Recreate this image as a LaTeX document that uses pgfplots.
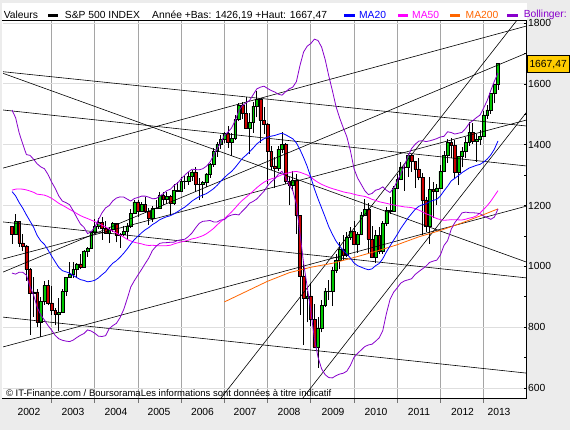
\documentclass[border=0pt]{standalone}
\usepackage{pgfplots}
\pgfplotsset{compat=1.18}
\usepackage{pgfplotstable}
\usepackage{fontspec}
\setmainfont{Liberation Sans}
\definecolor{bggray}{RGB}{236,236,236}
\definecolor{gridv}{RGB}{165,165,165}
\definecolor{gridh}{RGB}{222,222,222}
\definecolor{cgreen}{RGB}{0,200,0}
\definecolor{cred}{RGB}{204,0,0}
\definecolor{maBlue}{RGB}{0,0,255}
\definecolor{maMag}{RGB}{255,0,255}
\definecolor{maOr}{RGB}{255,102,0}
\definecolor{bolPur}{RGB}{136,0,204}
\definecolor{boxGold}{RGB}{255,204,0}
\newcommand\hdr{\fontsize{10.3pt}{12pt}\selectfont}

% monthly OHLC, m = months since Jan 2002
\pgfplotstableread{
m O H L C
1 1130.2 1130.2 1074.4 1106.7
2 1106.7 1173.0 1106.7 1147.4
3 1147.4 1147.8 1063.5 1076.9
4 1076.9 1106.6 1049.0 1067.1
5 1067.1 1070.6 952.9 989.8
6 989.8 994.5 775.7 911.6
7 911.6 965.0 833.4 916.1
8 916.1 924.0 800.2 815.3
9 815.3 900.1 768.6 885.8
10 885.8 951.6 872.7 936.3
11 936.3 954.3 871.8 879.8
12 879.8 935.1 840.3 855.7
13 855.7 864.6 806.3 841.2
14 841.2 895.9 788.9 848.2
15 848.2 924.2 847.9 916.9
16 916.9 965.4 902.8 963.6
17 963.6 1015.3 963.4 974.5
18 974.5 1015.4 962.1 990.3
19 990.3 1011.0 960.8 1008.0
20 1008.0 1040.3 990.4 996.0
21 996.0 1053.8 996.0 1050.7
22 1050.7 1063.7 1031.2 1058.2
23 1058.2 1112.6 1058.2 1111.9
24 1111.9 1155.4 1105.1 1131.1
25 1131.1 1159.0 1124.4 1144.9
26 1144.9 1163.2 1087.2 1126.2
27 1126.2 1150.6 1105.8 1107.3
28 1107.3 1127.7 1076.3 1120.7
29 1120.7 1146.3 1113.3 1140.8
30 1140.8 1140.8 1078.8 1101.7
31 1101.7 1109.7 1060.7 1104.2
32 1104.2 1131.5 1101.3 1114.6
33 1114.6 1142.1 1090.2 1130.2
34 1130.2 1188.5 1127.6 1173.8
35 1173.8 1217.3 1173.8 1211.9
36 1211.9 1217.8 1163.8 1181.3
37 1181.3 1212.4 1180.0 1203.6
38 1203.6 1229.1 1176.9 1180.6
39 1180.6 1191.9 1136.2 1156.9
40 1156.9 1199.6 1146.2 1191.5
41 1191.5 1219.6 1188.3 1191.3
42 1191.3 1245.2 1191.3 1234.2
43 1234.2 1245.9 1201.1 1220.3
44 1220.3 1243.1 1205.4 1228.8
45 1228.8 1233.3 1168.2 1207.0
46 1207.0 1270.6 1201.1 1249.5
47 1249.5 1275.8 1246.6 1248.3
48 1248.3 1294.9 1245.7 1280.1
49 1280.1 1297.6 1253.6 1280.7
50 1280.7 1310.9 1268.4 1294.8
51 1294.8 1318.2 1280.7 1310.6
52 1310.6 1326.7 1245.3 1270.1
53 1270.1 1290.7 1219.3 1270.2
54 1270.2 1280.4 1224.5 1276.7
55 1276.7 1306.7 1261.3 1303.8
56 1303.8 1340.3 1290.9 1335.9
57 1335.9 1389.5 1327.1 1377.9
58 1377.9 1407.9 1361.0 1400.6
59 1400.6 1431.8 1385.9 1418.3
60 1418.3 1441.6 1404.0 1438.2
61 1438.2 1461.6 1389.4 1406.8
62 1406.8 1438.9 1364.0 1420.9
63 1420.9 1498.0 1416.4 1482.4
64 1482.4 1535.6 1476.7 1530.6
65 1530.6 1540.6 1484.2 1503.4
66 1503.4 1555.9 1454.3 1455.3
67 1455.3 1503.9 1370.6 1474.0
68 1474.0 1538.7 1439.3 1526.8
69 1526.8 1576.1 1489.6 1549.4
70 1549.4 1549.4 1406.1 1481.1
71 1481.1 1523.6 1435.7 1468.4
72 1468.4 1471.8 1270.1 1378.6
73 1378.6 1396.0 1316.8 1330.6
74 1330.6 1359.7 1257.0 1322.7
75 1322.7 1397.0 1312.0 1385.6
76 1385.6 1440.2 1373.1 1400.4
77 1400.4 1404.1 1272.0 1280.0
78 1280.0 1292.2 1200.4 1267.4
79 1267.4 1313.2 1247.5 1282.8
80 1282.8 1303.0 1106.4 1166.4
81 1166.4 1167.0 839.8 968.8
82 968.8 1007.5 741.0 896.2
83 896.2 918.9 815.7 903.3
84 903.3 943.9 804.5 825.9
85 825.9 875.0 734.5 735.1
86 735.1 833.0 666.8 797.9
87 797.9 888.7 783.3 872.8
88 872.8 930.2 866.1 919.1
89 919.1 956.2 888.9 919.3
90 919.3 996.7 869.3 987.5
91 987.5 1039.5 978.5 1020.6
92 1020.6 1080.2 992.0 1057.1
93 1057.1 1101.4 1020.2 1036.2
94 1036.2 1113.7 1029.4 1095.6
95 1095.6 1130.4 1085.9 1115.1
96 1115.1 1150.5 1071.6 1073.9
97 1073.9 1112.4 1044.5 1104.5
98 1104.5 1180.2 1101.4 1169.4
99 1169.4 1219.8 1167.6 1186.7
100 1186.7 1206.8 1040.8 1089.4
101 1089.4 1131.2 1028.3 1030.7
102 1030.7 1121.0 1010.9 1101.6
103 1101.6 1129.2 1039.7 1049.3
104 1049.3 1148.7 1041.3 1141.2
105 1141.2 1196.1 1131.9 1183.3
106 1183.3 1227.1 1173.0 1180.6
107 1180.6 1262.6 1180.6 1257.6
108 1257.6 1302.7 1257.6 1286.1
109 1286.1 1344.1 1282.9 1327.2
110 1327.2 1332.3 1249.1 1325.8
111 1325.8 1370.6 1294.7 1363.6
112 1363.6 1370.6 1311.8 1345.2
113 1345.2 1345.2 1258.1 1320.6
114 1320.6 1356.5 1282.9 1292.3
115 1292.3 1307.4 1101.5 1218.9
116 1218.9 1229.3 1114.2 1131.4
117 1131.4 1292.7 1074.8 1253.3
118 1253.3 1277.6 1158.7 1247.0
119 1247.0 1269.4 1202.4 1257.6
120 1257.6 1333.5 1257.6 1312.4
121 1312.4 1378.0 1312.4 1365.7
122 1365.7 1419.2 1340.0 1408.5
123 1408.5 1422.4 1357.4 1397.9
124 1397.9 1415.3 1292.0 1310.3
125 1310.3 1363.5 1266.7 1362.2
126 1362.2 1391.7 1325.4 1379.3
127 1379.3 1426.7 1354.7 1406.6
128 1406.6 1474.5 1396.6 1440.7
129 1440.7 1471.0 1403.3 1412.2
130 1412.2 1434.3 1343.4 1416.2
131 1416.2 1448.0 1398.1 1426.2
132 1426.2 1509.9 1426.2 1498.1
133 1498.1 1530.9 1485.0 1514.7
134 1514.7 1570.3 1501.5 1569.2
135 1569.2 1597.6 1536.0 1597.6
136 1597.6 1667.5 1581.3 1667.5
}\candles

% MA20, MA50, Bollinger upper / lower
\pgfplotstableread{
m ma20 ma50 bu bl
1 1245.8 1250.5 1513.8 977.8
2 1231.6 1253.8 1488.8 974.4
3 1209.5 1254.4 1438.3 980.7
4 1191.0 1253.7 1401.8 980.2
5 1169.1 1251.2 1367.3 970.9
6 1148.9 1247.7 1364.9 932.9
7 1128.7 1243.3 1351.9 905.5
8 1101.2 1237.2 1336.8 865.6
9 1083.5 1235.8 1327.1 839.9
10 1072.3 1234.1 1321.1 823.5
11 1053.8 1229.8 1302.2 805.4
12 1033.8 1223.6 1277.2 790.4
13 1014.7 1215.8 1256.5 772.9
14 996.5 1207.2 1231.1 761.9
15 985.7 1200.8 1214.5 756.9
16 981.8 1194.3 1209.4 754.2
17 977.6 1187.1 1202.6 752.6
18 970.1 1180.9 1182.7 757.5
19 963.1 1173.6 1160.3 765.9
20 956.4 1166.9 1139.4 773.4
21 953.6 1161.6 1128.2 779.0
22 949.2 1157.1 1107.4 791.0
23 950.9 1152.0 1114.5 787.3
24 954.1 1146.9 1128.1 780.1
25 961.9 1140.4 1153.3 770.5
26 972.6 1135.0 1175.8 769.4
27 982.1 1129.9 1192.1 772.1
28 997.4 1122.3 1199.8 795.0
29 1010.2 1116.1 1215.2 805.2
30 1018.5 1109.7 1224.5 812.5
31 1029.7 1102.7 1228.3 831.1
32 1042.6 1096.4 1228.0 857.2
33 1057.1 1088.6 1221.1 893.1
34 1073.4 1083.3 1214.6 932.2
35 1088.1 1079.0 1223.1 953.1
36 1099.0 1076.3 1226.4 971.6
37 1110.4 1074.0 1230.8 990.0
38 1120.0 1070.3 1230.8 1009.2
39 1127.4 1068.6 1227.4 1027.4
40 1137.2 1069.3 1222.4 1052.0
41 1144.2 1068.1 1222.8 1065.6
42 1153.0 1067.7 1230.6 1075.4
43 1158.4 1067.6 1239.0 1077.8
44 1163.3 1068.0 1248.7 1077.9
45 1166.4 1069.4 1253.6 1079.2
46 1172.6 1073.6 1265.6 1079.6
47 1179.6 1077.3 1274.2 1085.0
48 1187.6 1080.2 1287.8 1087.4
49 1194.6 1082.8 1300.2 1089.0
50 1204.2 1086.1 1310.4 1098.0
51 1214.6 1090.2 1319.4 1109.8
52 1222.3 1092.7 1318.1 1126.5
53 1229.3 1096.5 1317.3 1141.3
54 1234.5 1100.7 1320.9 1148.1
55 1239.1 1107.0 1329.1 1149.1
56 1246.8 1115.5 1342.8 1150.8
57 1255.5 1124.7 1364.9 1146.1
58 1266.5 1136.4 1386.9 1146.1
59 1279.6 1147.1 1406.8 1152.4
60 1291.9 1157.1 1430.1 1153.7
61 1302.7 1167.7 1441.5 1163.9
62 1312.0 1179.0 1455.2 1168.8
63 1325.1 1191.8 1479.1 1171.1
64 1340.2 1205.4 1511.4 1169.0
65 1355.0 1217.2 1528.4 1181.6
66 1365.3 1227.0 1537.3 1193.3
67 1376.6 1237.0 1545.6 1207.6
68 1389.0 1247.7 1564.4 1213.6
69 1402.4 1258.5 1583.4 1221.4
70 1411.7 1268.2 1589.1 1234.3
71 1419.5 1276.6 1592.3 1246.7
72 1425.0 1283.0 1584.8 1265.2
73 1428.0 1287.4 1578.0 1278.0
74 1430.3 1291.2 1573.1 1287.5
75 1434.4 1296.0 1565.8 1303.0
76 1437.6 1301.5 1562.8 1312.4
77 1432.7 1305.0 1573.7 1291.7
78 1426.0 1307.9 1583.6 1268.4
79 1419.3 1310.7 1589.3 1249.3
80 1405.7 1312.0 1607.1 1204.3
81 1383.8 1309.3 1660.6 1107.0
82 1357.5 1304.9 1704.7 1010.3
83 1328.6 1300.4 1723.8 933.4
84 1293.3 1293.4 1732.5 854.1
85 1254.9 1283.9 1746.9 762.9
86 1222.1 1276.2 1742.5 701.7
87 1192.0 1269.6 1721.0 663.0
88 1161.6 1264.4 1679.6 643.6
89 1130.1 1259.6 1625.9 634.3
90 1105.4 1255.5 1577.6 633.2
91 1083.1 1252.1 1525.7 640.5
92 1067.0 1248.6 1488.2 645.8
93 1052.2 1244.9 1456.0 648.4
94 1040.9 1242.2 1426.5 655.3
95 1027.3 1240.4 1380.3 674.3
96 1011.0 1236.9 1321.2 700.8
97 1002.2 1234.0 1290.4 714.0
98 997.3 1231.8 1269.7 724.9
99 992.5 1229.9 1248.7 736.3
100 988.7 1225.8 1235.9 741.5
101 991.8 1220.2 1239.6 744.0
102 1002.1 1216.8 1250.3 753.9
103 1009.4 1212.4 1253.8 765.0
104 1025.1 1209.7 1261.3 788.9
105 1047.5 1207.3 1250.3 844.7
106 1066.7 1204.2 1242.7 890.7
107 1085.9 1201.8 1256.9 914.9
108 1104.3 1199.5 1279.5 929.1
109 1124.7 1197.6 1304.5 944.9
110 1141.6 1195.4 1331.2 952.0
111 1158.8 1194.5 1362.0 955.6
112 1173.2 1193.0 1387.2 959.2
113 1187.4 1189.8 1401.4 973.4
114 1197.2 1185.0 1411.6 982.8
115 1202.4 1179.3 1413.2 991.6
116 1205.3 1172.9 1410.1 1000.5
117 1212.7 1168.4 1412.5 1012.9
118 1216.6 1162.8 1416.0 1017.2
119 1220.2 1157.0 1420.0 1020.4
120 1231.3 1153.6 1425.3 1037.3
121 1248.1 1151.6 1427.5 1068.7
122 1263.4 1152.2 1442.4 1084.4
123 1280.8 1153.5 1440.0 1121.6
124 1289.3 1153.3 1434.9 1143.7
125 1298.2 1152.8 1437.6 1158.8
126 1308.1 1152.4 1440.5 1175.7
127 1315.6 1154.9 1453.0 1178.2
128 1323.3 1158.4 1470.1 1176.5
129 1327.6 1161.0 1479.0 1176.2
130 1332.1 1166.0 1488.9 1175.3
131 1335.2 1175.1 1497.2 1173.2
132 1342.8 1187.1 1520.0 1165.6
133 1352.5 1199.4 1545.1 1159.9
134 1366.4 1214.2 1578.2 1154.6
135 1385.3 1231.5 1608.7 1161.9
136 1412.1 1248.9 1635.5 1188.7
}\matab

\pgfplotsset{base/.style={scale only axis, width=523.5pt, height=377.5pt,
  xmin=-1.5, xmax=143.92, ymin=565.5, ymax=1806.6,
  at={(3pt,-398.5pt)}, anchor=south west}}

\begin{document}
\begin{tikzpicture}
\useasboundingbox (0,0) rectangle (570pt,-430pt);
\fill[bggray] (0,0) rectangle (570pt,-430pt);
\fill[white] (2pt,-3pt) rectangle (526.5pt,-398.5pt);

% grid + wicks
\begin{axis}[base, axis line style={draw=none},
  xtick={12,24,...,132}, ytick={600,800,...,1800},
  xticklabels={}, yticklabels={}, major tick length=0pt,
  xmajorgrids, ymajorgrids,
  x grid style={gridv, line width=0.9pt},
  y grid style={gridh, line width=0.9pt}]
\addplot[draw=none, mark=none, forget plot,
  error bars/.cd, y dir=plus, y explicit, error mark=none,
  error bar style={draw=black, solid, line width=0.8pt}]
  table[x=m, y=L, y error expr=\thisrow{H}-\thisrow{L}] {\candles};
\end{axis}

% candle bodies
\begin{axis}[base, hide axis, ybar stacked, bar width=0.8]
\addplot[draw=none, fill=none] table[x=m, y expr={min(\thisrow{O},\thisrow{C})}] {\candles};
\addplot[fill=cgreen, draw=black, line width=0.5pt] table[x=m, y expr={max(\thisrow{C}-\thisrow{O},0)}] {\candles};
\addplot[fill=cred, draw=black, line width=0.5pt] table[x=m, y expr={max(\thisrow{O}-\thisrow{C},0)}] {\candles};
\end{axis}

% indicators, trend lines, y ticks
\begin{axis}[base, axis line style={draw=none},
  xtick=\empty, ytick={600,800,...,1800}, minor ytick={700,900,...,1700},
  ytick pos=right, yticklabel pos=right, tick align=inside,
  major tick length=3pt, minor tick length=3pt,
  tick style={black, line width=0.6pt},
  yticklabel style={font=\hdr, anchor=west, inner sep=0pt, xshift=1.5pt},
  /pgf/number format/.cd, 1000 sep={}, assume math mode=true]
% trend lines
\addplot[black, line width=0.6pt] coordinates {(-1.5,1639.9) (143.9,1461.4)};
\addplot[black, line width=0.6pt] coordinates {(-1.5,1634.6) (143.9,1014)};
\addplot[black, line width=0.6pt] coordinates {(-1.5,1514) (143.9,1330)};
\addplot[black, line width=0.6pt] coordinates {(-1.5,1323) (143.9,1790)};
\addplot[black, line width=0.6pt] coordinates {(-1.5,1146) (143.9,962)};
\addplot[black, line width=0.6pt] coordinates {(-1.5,1024) (143.9,1481)};
\addplot[black, line width=0.6pt] coordinates {(-1.5,981) (143.9,1701)};
\addplot[black, line width=0.6pt] coordinates {(-1.5,833) (143.9,649)};
\addplot[black, line width=0.6pt] coordinates {(-1.5,735) (143.9,1198)};
\addplot[black, line width=0.6pt] coordinates {(58,551) (143.9,1849)};
\addplot[black, line width=0.6pt] coordinates {(80.8,552) (143.9,1506)};
% moving averages and bands
\addplot[maOr, line width=0.8pt] coordinates {(60,883) (66,917) (72,951) (78,979) (84,997) (90,1010) (96,1029) (102,1049) (108,1071) (114,1097) (120,1118) (126,1143) (132,1170) (136,1189)};
\addplot[maMag, line width=0.8pt] table[x=m, y=ma50] {\matab};
\addplot[bolPur, line width=0.8pt] table[x=m, y=bu] {\matab};
\addplot[bolPur, line width=0.8pt] table[x=m, y=bl] {\matab};
\addplot[maBlue, line width=0.8pt] table[x=m, y=ma20] {\matab};
\end{axis}

% frame
\draw[black, line width=1pt] (2pt,-21pt) -- (526.5pt,-21pt) -- (526.5pt,-398.5pt) -- (2pt,-398.5pt);
\foreach \px in {51.6,94.8,138,181.2,224.4,267.6,310.8,354,397.2,440.4,483.6}
  \draw[gridv!70!black, line width=0.8pt] (\px pt,-398.5pt) -- (\px pt,-403pt);

% x labels
\foreach \px/\yr in {29/2002,73/2003,116/2004,159/2005,202.5/2006,245/2007,289/2008,333/2009,376/2010,419/2011,462.5/2012,499/2013}
  \node[anchor=base, inner sep=0pt, font=\hdr] at (\px pt,-415.5pt) {\yr};

% header
\node[anchor=base west, inner sep=0pt, font=\hdr] at (3.6pt,-18.5pt) {Valeurs};
\fill[black] (48.4pt,-13.8pt) rectangle (58.2pt,-17pt);
\node[anchor=base west, inner sep=0pt, font=\hdr] at (64.7pt,-18.5pt) {S\&P 500 INDEX};
\node[anchor=base west, inner sep=0pt, font=\hdr] at (152pt,-18.5pt) {Année +Bas: 1426,19 +Haut: 1667,47};
\fill[maBlue] (343.6pt,-13.8pt) rectangle (354.5pt,-17pt);
\node[anchor=base west, inner sep=0pt, font=\hdr, text=maBlue] at (358.9pt,-18.5pt) {MA20};
\fill[maMag] (397.5pt,-13.8pt) rectangle (408pt,-17pt);
\node[anchor=base west, inner sep=0pt, font=\hdr, text=maMag] at (412pt,-18.5pt) {MA50};
\fill[maOr] (450pt,-13.8pt) rectangle (460pt,-17pt);
\node[anchor=base west, inner sep=0pt, font=\hdr, text=maOr] at (465.5pt,-18.5pt) {MA200};
\fill[bolPur] (507pt,-13.8pt) rectangle (518pt,-17pt);
\node[anchor=base west, inner sep=0pt, font=\hdr, text=bolPur] at (523.6pt,-17.5pt) {Bollinger:};

% last price box
\draw[fill=boxGold, draw=black, line width=0.8pt] (527.3pt,-55pt) rectangle (569.5pt,-72pt);
\node[anchor=base west, inner sep=0pt, font=\hdr] at (529.3pt,-67.2pt) {1667,47};

% source note
\node[anchor=base west, inner sep=0pt, font=\fontsize{9.5pt}{11pt}\selectfont] at (5.8pt,-396.5pt) {© IT-Finance.com / BoursoramaLes informations sont données à titre indicatif};
\end{tikzpicture}
\end{document}
